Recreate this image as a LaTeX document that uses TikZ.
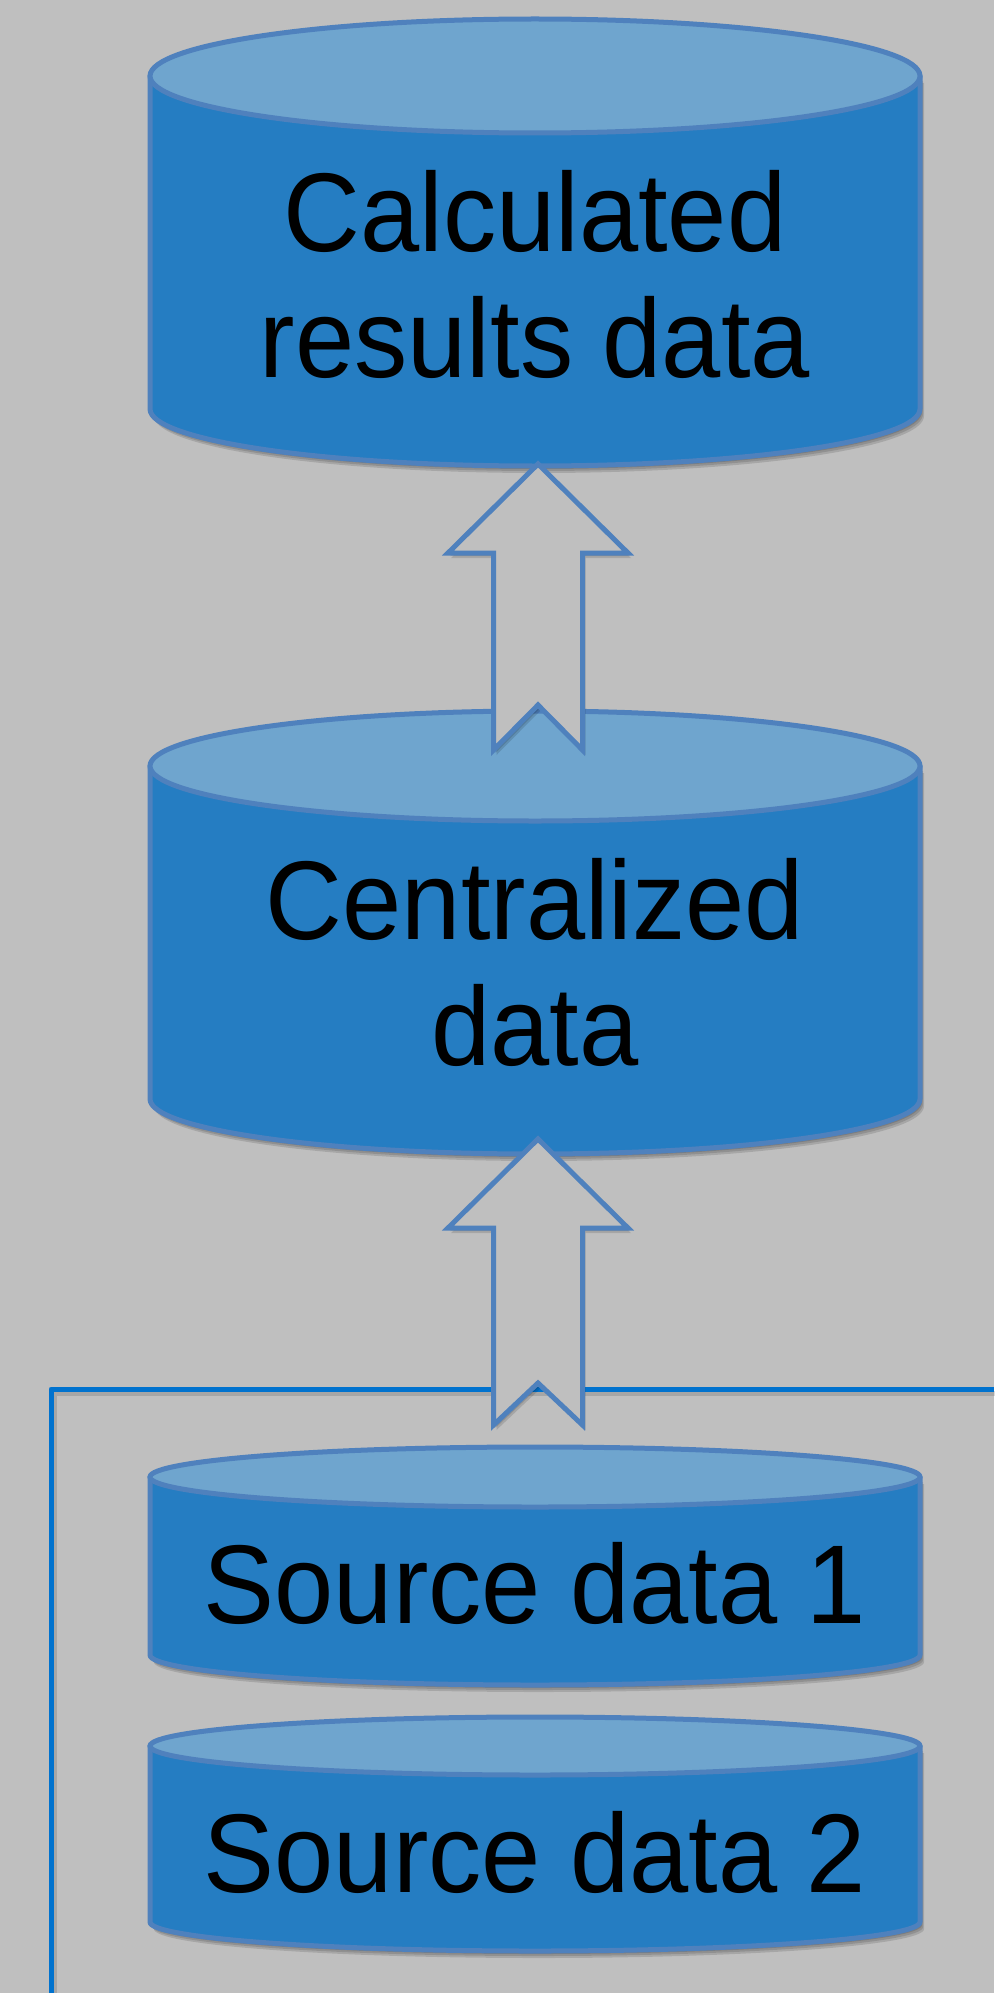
\documentclass[tikz,border=0pt]{standalone}
\usepackage{fontspec}
\setmainfont{Liberation Sans}
\newfontfamily\storefont[FakeStretch=0.95]{Liberation Sans}
\usetikzlibrary{calc}

\definecolor{canvas}{RGB}{191,191,191}
\definecolor{dbbody}{RGB}{37,125,194}
\definecolor{dbtop}{RGB}{111,165,206}
\definecolor{dbline}{RGB}{79,129,189}
\definecolor{groupline}{RGB}{0,114,206}

\tikzset{
  dbside/.style={fill=dbbody, draw=dbline, line width=5pt, line join=round},
  dblid/.style={fill=dbtop, draw=dbline, line width=5pt},
  dbshadow/.style={fill=black, opacity=0.13},
  dblabel/.style={font=\storefont\fontsize{112}{126}\selectfont, align=center, text=black, inner sep=0pt},
  flowarrow/.style={fill=canvas, draw=dbline, line width=5pt, line join=miter},
  groupframe/.style={draw=groupline, line width=5pt, line join=round},
  frameshadow/.style={draw=black, opacity=0.13, line width=5pt},
}

% \database{name}{centre x}{lid centre y}{base centre y}{x radius}{y radius}
\newcommand\database[6]{%
  \foreach \dx/\dy in {2/3,3/5,4/7}{%
    \fill[dbshadow] (#2-#5+\dx,#3+\dy) -- (#2-#5+\dx,#4+\dy)
      arc[start angle=180, end angle=0, x radius=#5, y radius=#6] -- (#2+#5+\dx,#3+\dy) -- cycle;
  }
  \draw[dbside] (#2-#5,#3) -- (#2-#5,#4)
    arc[start angle=180, end angle=0, x radius=#5, y radius=#6] -- (#2+#5,#3) -- cycle;
  \draw[dblid] (#2,#3) ellipse[x radius=#5, y radius=#6];
  \coordinate (#1-top) at (#2,#3-#6);
  \coordinate (#1-bot) at (#2,#4+#6);
}

% block arrow pointing up, its tip at #1, its tail notch #2 deep
\newcommand\uparrowblock[2]{%
  \foreach \dx/\dy in {2/3,3/5}{%
    \fill[dbshadow] ($(#1)+(\dx,\dy)$) -- ++(90,89) -- ++(-45.5,0) -- ++(0,197)
      -- ++(-44.5,-#2) -- ++(-44.5,#2) -- ++(0,-197) -- ++(-45.5,0) -- cycle;
  }
  \draw[flowarrow] (#1) -- ++(90,89) -- ++(-45.5,0) -- ++(0,197)
    -- ++(-44.5,-#2) -- ++(-44.5,#2) -- ++(0,-197) -- ++(-45.5,0) -- cycle;
}

\begin{document}
\begin{tikzpicture}[x=1pt, y=-1pt]
  % page
  \fill[canvas] (0,0) rectangle (994,1993);
  \useasboundingbox (0,0) rectangle (994,1993);

  % stores
  \database{resdb}{535}{76}{409}{385}{57}
  \node[dblabel] (res) at (535,274) {Calculated\\results data};

  \database{centdb}{535}{766}{1099}{385}{55}
  \node[dblabel] (cent) at (535,962) {Centralized\\data};

  % frame round the sources
  \coordinate (grp-foot) at (51,1993);
  \coordinate (grp-end) at (994,1389);
  \draw[frameshadow] ($(grp-foot)+(3,4)$) |- ($(grp-end)+(3,4)$);
  \draw[groupframe] (grp-foot) |- (grp-end);

  \database{srcadb}{535}{1477}{1655}{385}{30}
  \node[dblabel] (srca) at (535,1583) {Source data 1};

  \database{srcbdb}{535}{1746}{1922}{385}{29}
  \node[dblabel] (srcb) at (535,1852) {Source data 2};

  % block arrows between the stores
  \coordinate (up1) at ($(resdb-bot)+(3,-2)$);
  \coordinate (up2) at ($(centdb-bot)+(3,-15)$);
  \uparrowblock{up1}{45}
  \uparrowblock{up2}{42}
\end{tikzpicture}
\end{document}
